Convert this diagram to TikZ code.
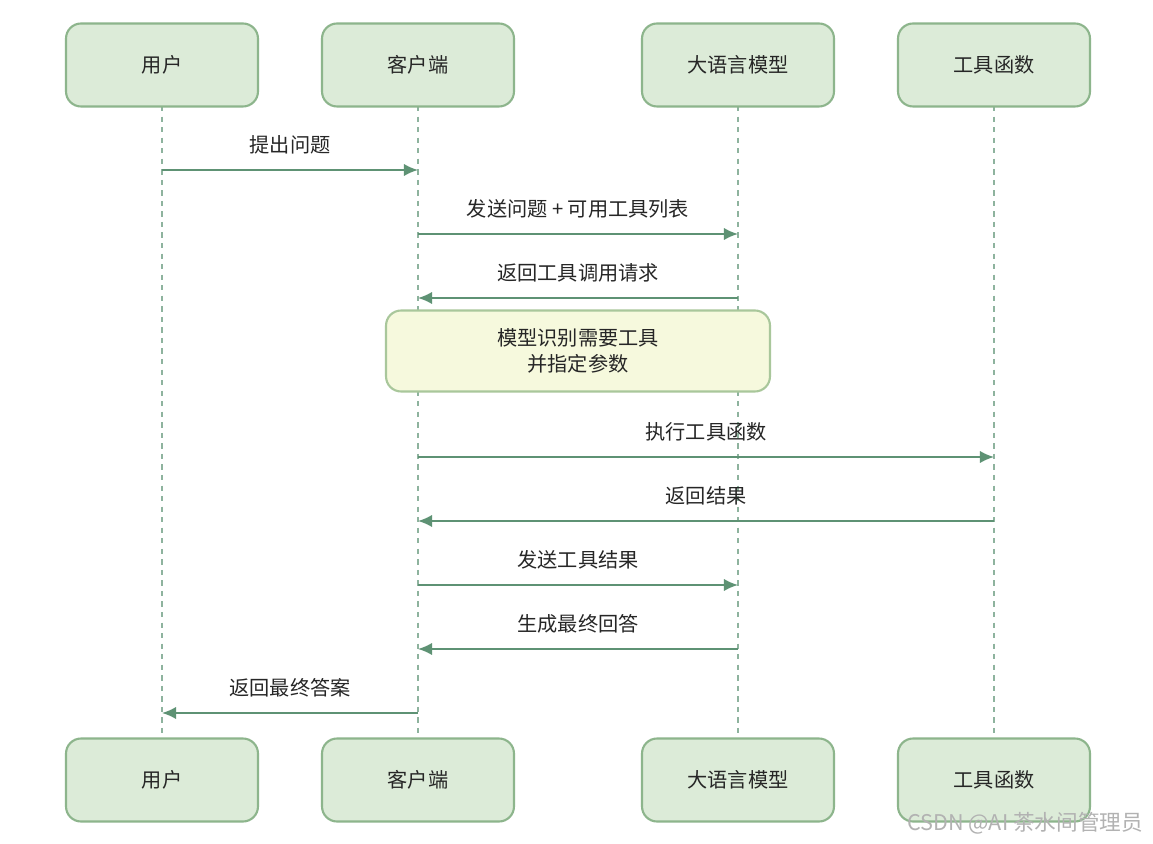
\documentclass[tikz,border=0pt]{standalone}
\usepackage{fontspec}
\setmainfont{Noto Sans CJK SC}
\usetikzlibrary{arrows.meta,calc}
\definecolor{actfill}{HTML}{DCEBD8}
\definecolor{actline}{HTML}{8DB58C}
\definecolor{msgline}{HTML}{5E9274}
\definecolor{notefill}{HTML}{F6F9DD}
\definecolor{noteline}{HTML}{A9C79B}
\tikzset{
  actor/.style={draw=actline, fill=actfill, line width=1.2pt, rounded corners=0.3cm,
    minimum width=3.84cm, minimum height=1.66cm, font=\fontsize{11.5}{14}\selectfont, text=black!85},
  life/.style={draw=msgline!70, dashed, line width=0.6pt},
  msg/.style={draw=msgline, line width=1pt, -{Latex[length=8pt,width=7pt]}},
  lbl/.style={font=\fontsize{11.5}{16}\selectfont, text=black!85}
}
\begin{document}
\begin{tikzpicture}[x=0.02cm, y=-0.02cm]
	\useasboundingbox (0,0) rectangle (1153,844);
	\fill[white] (0,0) rectangle (1153,844);
	
	% lifelines
	\foreach \n/\x/\t in {u/162/用户, c/418/客户端, m/738/大语言模型, f/994/工具函数} {
		\draw[life] (\x,106) -- (\x,738);
		\node[actor] (\n top) at (\x,65) {\t};
		\node[actor] (\n bot) at (\x,780) {\t};
	}
	
	% messages
	\foreach \a/\b/\y/\t in {162/418/170/提出问题, 418/738/234/发送问题 + 可用工具列表,
		738/418/298/返回工具调用请求, 418/994/457/执行工具函数, 994/418/521/返回结果,
		418/738/585/发送工具结果, 738/418/649/生成最终回答, 418/162/713/返回最终答案} {
		\coordinate (s) at (\a,\y);
		\coordinate (e) at (\b,\y);
		\draw[msg] (s) -- (e);
		\node[lbl] at ($ (s)!0.5!(e) + (0,-25) $) {\t};
	}
	
	% note
	\node[draw=noteline, fill=notefill, line width=1.2pt, rounded corners=0.3cm,
		minimum width=7.68cm, minimum height=1.62cm, align=center, lbl] (note) at (578,351)
		{模型识别需要工具\\[-1pt]并指定参数};
	
	\node[font=\fontsize{12.3}{16}\selectfont, text=black!30] (mark) at (1025,823) {CSDN @AI 茶水间管理员};
\end{tikzpicture}
\end{document}
